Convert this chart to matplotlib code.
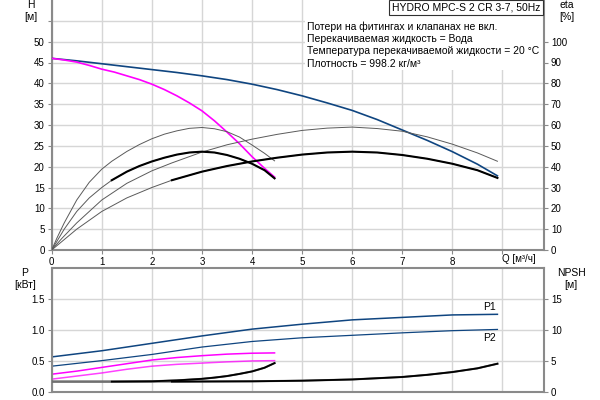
import numpy as np
import matplotlib.pyplot as plt
from matplotlib.patches import Rectangle

plt.rcParams['font.family'] = ['Liberation Sans', 'DejaVu Sans']
plt.rcParams['font.size'] = 7

# head curves [m]
q_h1 = [0, 0.25, 0.5, 0.75, 1, 1.25, 1.5, 1.75, 2, 2.25, 2.5, 2.75, 3, 3.25, 3.5, 3.75, 4, 4.25, 4.45]
h_one = [46.0, 45.6, 45.1, 44.3, 43.4, 42.7, 41.8, 40.9, 39.8, 38.5, 37.0, 35.3, 33.4, 31.0, 28.3, 25.5, 22.4, 19.6, 17.5]
q_h2 = [0, 0.5, 1, 1.5, 2, 2.5, 3, 3.5, 4, 4.5, 5, 5.5, 6, 6.5, 7, 7.5, 8, 8.5, 8.9]
h_two = [46.0, 45.4, 44.7, 44.0, 43.3, 42.6, 41.8, 40.9, 39.8, 38.5, 37.0, 35.3, 33.5, 31.3, 28.8, 26.3, 23.6, 20.6, 17.8]

# efficiency curves [%]
q_eta1 = [0, 0.1, 0.25, 0.5, 0.75, 1, 1.2, 1.5, 1.75, 2, 2.25, 2.5, 2.75, 3, 3.25, 3.5, 3.75, 4, 4.25, 4.45]
eta_a1 = [0, 5.5, 13, 24, 32.5, 38.8, 42.6, 47.3, 50.6, 53.4, 55.6, 57.2, 58.4, 58.8, 58.2, 56.8, 54.2, 50.4, 46.4, 42.8]
eta_b1 = [0, 4, 10, 18.5, 25, 30, 33.5, 37.6, 40.3, 42.5, 44.3, 45.8, 46.8, 47.2, 46.8, 45.6, 43.8, 41.4, 38.3, 34.4]
q_eta2 = [0, 0.2, 0.5, 1, 1.5, 2, 2.4, 3, 3.5, 4, 4.5, 5, 5.5, 6, 6.5, 7, 7.5, 8, 8.5, 8.9]
eta_a2 = [0, 5.5, 13, 24, 32, 38, 41.8, 47, 50.5, 53.2, 55.5, 57.4, 58.5, 59, 58.3, 57, 54.3, 50.8, 46.6, 42.6]
eta_b2 = [0, 4, 10, 18.5, 25, 30, 33.5, 37.6, 40.3, 42.5, 44.3, 45.8, 46.8, 47.2, 46.8, 45.6, 43.8, 41.4, 38.3, 34.6]

# power [kW]
q_p1 = [0, 0.5, 1, 1.5, 2, 2.5, 3, 3.5, 4, 4.45]
p1_one = [0.28, 0.33, 0.39, 0.45, 0.51, 0.55, 0.58, 0.605, 0.62, 0.625]
p2_one = [0.20, 0.25, 0.30, 0.36, 0.41, 0.44, 0.46, 0.48, 0.495, 0.50]
q_p2 = [0, 1, 2, 3, 4, 5, 6, 7, 8, 8.9]
p1_two = [0.56, 0.66, 0.78, 0.90, 1.01, 1.09, 1.16, 1.20, 1.24, 1.25]
p2_two = [0.41, 0.50, 0.60, 0.72, 0.81, 0.87, 0.91, 0.95, 0.985, 1.005]

# NPSH [m]
q_n1 = [0, 0.5, 1, 1.2, 2, 2.5, 3, 3.25, 3.5, 3.75, 4, 4.25, 4.45]
npsh_one = [1.6, 1.6, 1.6, 1.6, 1.65, 1.8, 2.05, 2.25, 2.5, 2.85, 3.25, 3.85, 4.6]
q_n2 = [0, 1, 2, 2.4, 4, 5, 6, 6.5, 7, 7.5, 8, 8.5, 8.9]
npsh_two = [1.6, 1.6, 1.6, 1.6, 1.65, 1.75, 1.95, 2.15, 2.35, 2.7, 3.15, 3.75, 4.5]

info_lines = ['Потери на фитингах и клапанах не вкл.',
              'Перекачиваемая жидкость = Вода',
              'Температура перекачиваемой жидкости = 20 °C',
              'Плотность = 998.2 кг/м³']
title = 'HYDRO MPC-S 2 CR 3-7, 50Hz'

blue = '#0f4580'
mag = '#ff00ff'
grid_c = '#d6d6d6'
spine_c = '#8a8a8a'
thin_c = '#5a5a5a'
qmax = 9.83

fig = plt.figure(figsize=(6, 4), dpi=100)
ax = fig.add_axes([51.7/600, 1 - 250/400, (544 - 51.7)/600, 250/400])
axb = fig.add_axes([51.7/600, 1 - 391.5/400, (544 - 51.7)/600, (391.5 - 268)/400])


def style(a, ylim, yticks):
    a.set_xlim(0, qmax)
    a.set_ylim(*ylim)
    a.set_axisbelow(True)
    a.set_xticks(range(0, 10))
    a.set_yticks(yticks)
    a.grid(True, color=grid_c, lw=1.0)
    for s in a.spines.values():
        s.set_color(spine_c)
        s.set_linewidth(1.5)
    a.spines['top'].set_visible(False)
    a.tick_params(length=3, width=0.8, color=spine_c, labelsize=7, pad=2)


style(ax, (0, 60), np.arange(0, 60, 5))
ax.set_yticklabels([str(v) for v in range(0, 55, 5)] + [''])
ax.set_xticklabels([str(v) for v in range(0, 9)] + [''])
ax.text(9.0, -1.0, 'Q [м³/ч]', ha='left', va='top', fontsize=7)

axe = ax.twinx()
axe.set_ylim(0, 120)
axe.set_yticks(np.arange(0, 110, 10))
axe.tick_params(length=3, width=0.8, color=spine_c, labelsize=7, pad=2)
for s in axe.spines.values():
    s.set_visible(False)

# white panel behind info text
ax.add_patch(Rectangle((5.05, 43.2), qmax - 5.05, 16.8, facecolor='white',
                       edgecolor='none', zorder=1))

ax.plot(q_h2, h_two, color=blue, lw=1.2, zorder=3)
ax.plot(q_h1, h_one, color=mag, lw=1.2, zorder=3)

q1 = np.array(q_eta1)
q2 = np.array(q_eta2)
axe.plot(q_eta1, eta_a1, color=thin_c, lw=0.7)
axe.plot(q_eta2, eta_a2, color=thin_c, lw=0.7)
axe.plot(q_eta1, eta_b1, color=thin_c, lw=0.7)
axe.plot(q_eta2, eta_b2, color=thin_c, lw=0.7)
axe.plot(q1[q1 >= 1.2], np.array(eta_b1)[q1 >= 1.2], color='black', lw=1.5)
axe.plot(q2[q2 >= 2.4], np.array(eta_b2)[q2 >= 2.4], color='black', lw=1.5)

for i, line in enumerate(info_lines):
    fig.text(307/600, 1 - (27 + 12.2*i)/400, line, ha='left', va='center',
             fontsize=7.5)

fig.patches.append(Rectangle((389/600, 1 - 15/400), (543 - 389)/600, 15/400,
                             transform=fig.transFigure, facecolor='white',
                             edgecolor='#303030', lw=0.8))
fig.text(466/600, 1 - 7.5/400, title, ha='center', va='center', fontsize=7.5)

fig.text(31/600, 1 - 5/400, 'H', ha='center', va='center', fontsize=7.5)
fig.text(31/600, 1 - 17/400, '[м]', ha='center', va='center', fontsize=7.5)
fig.text(567/600, 1 - 5/400, 'eta', ha='center', va='center', fontsize=7.5)
fig.text(567/600, 1 - 17/400, '[%]', ha='center', va='center', fontsize=7.5)

# lower chart
style(axb, (0, 2.0), [0.0, 0.5, 1.0, 1.5])
axb.set_yticklabels(['0.0', '0.5', '1.0', '1.5'])
axb.set_xticklabels([])
axb.tick_params(axis='x', length=0)
axb.spines['top'].set_visible(True)

axn = axb.twinx()
axn.set_ylim(0, 20)
axn.set_yticks([0, 5, 10, 15])
axn.tick_params(length=3, width=0.8, color=spine_c, labelsize=7, pad=2)
for s in axn.spines.values():
    s.set_visible(False)

axb.plot(q_p2, p1_two, color=blue, lw=1.1)
axb.plot(q_p2, p2_two, color=blue, lw=0.9)
axb.plot(q_p1, p1_one, color=mag, lw=1.1)
axb.plot(q_p1, p2_one, color=mag, lw=1.1, alpha=0.75)
axb.text(8.75, p1_two[-1] + 0.04, 'P1', ha='center', va='bottom', fontsize=7.5)
axb.text(8.75, p2_two[-1] - 0.05, 'P2', ha='center', va='top', fontsize=7.5)

n1 = np.array(q_n1)
n2 = np.array(q_n2)
axn.plot(q_n1, npsh_one, color='#707070', lw=1.5)
axn.plot(q_n2, npsh_two, color='#707070', lw=1.5)
axn.plot(n1[n1 >= 1.2], np.array(npsh_one)[n1 >= 1.2], color='black', lw=1.3)
axn.plot(n2[n2 >= 2.4], np.array(npsh_two)[n2 >= 2.4], color='black', lw=1.3)

fig.text(25/600, 1 - 272.7/400, 'P', ha='center', va='center', fontsize=7.5)
fig.text(25/600, 1 - 284.5/400, '[кВт]', ha='center', va='center', fontsize=7.5)
fig.text(571/600, 1 - 272.7/400, 'NPSH', ha='center', va='center', fontsize=7.5)
fig.text(571/600, 1 - 284.5/400, '[м]', ha='center', va='center', fontsize=7.5)

fig.savefig('out.png', dpi=100)
